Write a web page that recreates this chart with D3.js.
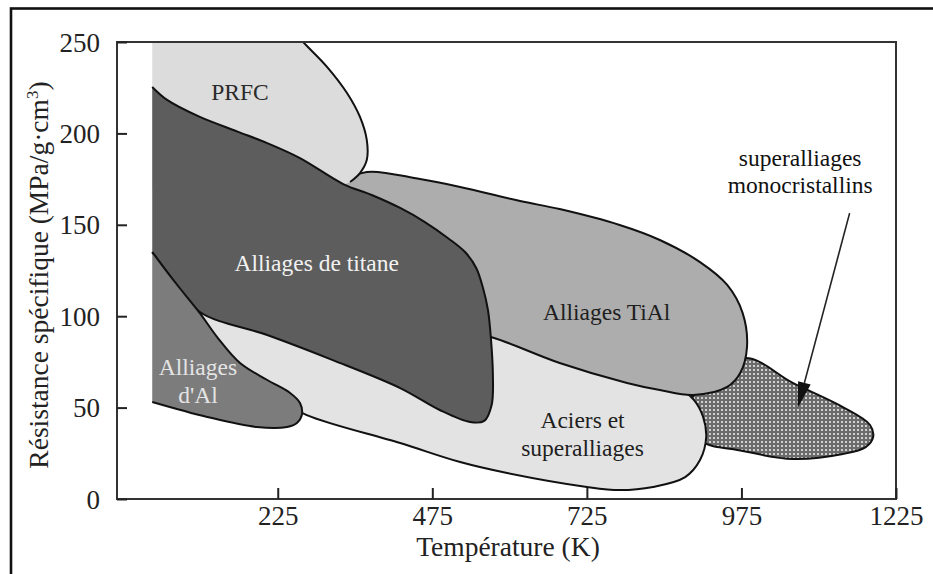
<!DOCTYPE html>
<html><head><meta charset="utf-8">
<script src="https://cdn.jsdelivr.net/npm/d3@7"></script>
<style>
html,body{margin:0;padding:0;background:#fff;}
svg{display:block;font-family:"Liberation Serif","Times New Roman",serif;}
svg text{font-family:"Liberation Serif","Times New Roman",serif !important;}
</style></head>
<body>
<svg id="chart" width="933" height="574"></svg>
<script>
// ---- data (Température K, Résistance spécifique MPa/(g/cm3)) ----
const xTicks = [225, 475, 725, 975, 1225];
const yTicks = [0, 50, 100, 150, 200, 250];
const xTitle = "Température (K)";
const yTitle = "Résistance spécifique (MPa/g·cm";

const prfc = [[22,265],[225,265],[266,250],[305,236.3],[337,222.1],[358,209],[369,196.4],[369,185.4],[358,178.3],[342,173.4],[293,169],[22,169]];
const titane = [[22,225.4],[46,218.3],[99,209],[160,201],[208,194.7],[261,186.5],[331,172.3],[377,166.3],[423,159.2],[463,151.5],[500,142.8],[528,135.1],[546,126.4],[557,115.4],[565,103.4],[570,87],[573,67.8],[571,51.4],[559,42.7],[536,42.1],[487,48.7],[423,60.7],[314,76],[208,89.7],[99,102.3],[56,119.8],[22,135.1]];
const alu = [[22,135.1],[56,119.8],[99,101.7],[127,88.6],[164,74.4],[208,65.1],[245,58],[261,52.5],[264,46],[256,41.6],[240,39.4],[191,39.4],[111,44.9],[22,53.1]];
const aciers = [[75,108.9],[309,97.9],[552,97.9],[746,80.4],[867,62.4],[898,54.2],[913,44.9],[918,33.9],[908,21.3],[884,12],[832,6.6],[778,4.9],[725,6.6],[596,14.2],[520,20.2],[423,30.6],[272,45.9],[229,54.2],[132,74.9]];
const tial = [[334,173.4],[369,178.9],[455,175],[520,170.7],[617,163],[681,158.6],[778,149.9],[843,141.7],[908,129.6],[952,117.1],[977,101.7],[984,83.1],[973,68.9],[952,61.3],[897,56.9],[843,59.6],[790,63.5],[681,74.4],[575,88.1],[520,92.4],[423,108.9],[342,136.2],[318,163.6]];
const mono = [[908,62.4],[981,77.1],[1058,63.5],[1139,50.3],[1183,40.5],[1188,33.9],[1176,28.4],[1139,24.6],[1058,21.9],[977,26.3],[908,32.3],[892,48.7]];
const arrowFrom = [1150, 156.4];
const arrowTo = [1066, 49.8];

const labels = [
  {lines:["PRFC"], at:[164,222.6], color:"#2a2a2a"},
  {lines:["Alliages de titane"], at:[288,129.1], color:"#f2f2f2"},
  {lines:["Alliages","d'Al"], at:[96,64.6], color:"#e4e4e4"},
  {lines:["Alliages TiAl"], at:[757,102.3], color:"#1e1e1e"},
  {lines:["Aciers et","superalliages"], at:[718,35.6], color:"#1e1e1e"},
  {lines:["superalliages","monocristallins"], at:[1070,179.2], color:"#111"}
];

// ---- layout ----
const svg = d3.select("#chart");
const L = 117, R = 896, T = 42, B = 499;
const x = d3.scaleLinear().domain([-35, 1225]).range([L, R]);
const y = d3.scaleLinear().domain([0, 250]).range([B, T]);

// outer border
svg.append("rect").attr("x", 11).attr("y", 8.5).attr("width", 960).attr("height", 620)
  .attr("fill", "#fff").attr("stroke", "#111").attr("stroke-width", 2.6);

const defs = svg.append("defs");
defs.append("clipPath").attr("id", "plotclip").append("rect")
  .attr("x", L).attr("y", T).attr("width", R - L).attr("height", B - T);
const pat = defs.append("pattern").attr("id", "dots").attr("patternUnits", "userSpaceOnUse")
  .attr("width", 4).attr("height", 4);
pat.append("rect").attr("width", 4).attr("height", 4).attr("fill", "#6c6c6c");
pat.append("rect").attr("x", 1).attr("y", 1).attr("width", 2).attr("height", 2).attr("fill", "#cfcfcf");

const g = svg.append("g").attr("clip-path", "url(#plotclip)");
const openLine = d3.line().x(d => x(d[0])).y(d => y(d[1])).curve(d3.curveCatmullRom.alpha(0.5));
const closedLine = d3.line().x(d => x(d[0])).y(d => y(d[1])).curve(d3.curveCatmullRomClosed.alpha(0.5));

function region(data, fill, closed, strokeN) {
  const d = closed ? closedLine(data) : openLine(data);
  g.append("path").attr("d", d).attr("fill", fill).attr("stroke", "none");
  const sd = strokeN ? openLine(data.slice(0, strokeN)) : d;
  g.append("path").attr("d", sd).attr("fill", "none")
    .attr("stroke", "#111").attr("stroke-width", 2).attr("stroke-linejoin", "round");
}
region(mono, "url(#dots)", true);
region(aciers, "#e3e3e3", true);
region(tial, "#adadad", true);
region(prfc, "#dcdcdc", false, 10);
region(titane, "#5d5d5d", false);
region(alu, "#7c7c7c", false);

// arrow
const ax1 = x(arrowFrom[0]), ay1 = y(arrowFrom[1]), ax2 = x(arrowTo[0]), ay2 = y(arrowTo[1]);
const ang = Math.atan2(ay2 - ay1, ax2 - ax1);
const hl = 26, hw = 6.5;
const bx = ax2 - hl * Math.cos(ang), by = ay2 - hl * Math.sin(ang);
svg.append("line").attr("x1", ax1).attr("y1", ay1).attr("x2", bx).attr("y2", by)
  .attr("stroke", "#222").attr("stroke-width", 1.6);
svg.append("path").attr("d", `M${ax2},${ay2}L${bx - hw*Math.sin(ang)},${by + hw*Math.cos(ang)}L${bx + hw*Math.sin(ang)},${by - hw*Math.cos(ang)}Z`)
  .attr("fill", "#111");

// labels
labels.forEach(lb => {
  const t = svg.append("text").attr("text-anchor", "middle")
    .attr("font-size", 23.5).attr("fill", lb.color);
  const n = lb.lines.length;
  lb.lines.forEach((s, i) => {
    t.append("tspan").attr("x", x(lb.at[0]))
      .attr("y", y(lb.at[1]) + (i - (n - 1) / 2) * 27.5 + 8).text(s);
  });
});

// frame
svg.append("rect").attr("x", L).attr("y", T).attr("width", R - L).attr("height", B - T)
  .attr("fill", "none").attr("stroke", "#333").attr("stroke-width", 2);

// axes
const xAxis = d3.axisBottom(x).tickValues(xTicks).tickSizeInner(-11).tickSizeOuter(0).tickPadding(7).tickFormat(d3.format("d"));
const yAxis = d3.axisLeft(y).tickValues(yTicks).tickSizeInner(-10).tickSizeOuter(0).tickPadding(17).tickFormat(d3.format("d"));
const gx = svg.append("g").attr("transform", `translate(0,${B})`).call(xAxis);
const gy = svg.append("g").attr("transform", `translate(${L},0)`).call(yAxis);
[gx, gy].forEach(a => {
  a.attr("font-family", null);
  a.select(".domain").remove();
  a.selectAll("line").attr("stroke", "#222").attr("stroke-width", 2);
  a.selectAll("text").attr("font-size", 27).attr("fill", "#222");
});
gy.selectAll("text").attr("dy", "0.34em");

// axis titles
svg.append("text").attr("x", 508).attr("y", 556).attr("text-anchor", "middle")
  .attr("font-size", 27.5).attr("fill", "#222").text(xTitle);
const yt = svg.append("text").attr("transform", "translate(48,275) rotate(-90)")
  .attr("text-anchor", "middle").attr("font-size", 27.5).attr("fill", "#222");
yt.append("tspan").text(yTitle);
yt.append("tspan").attr("dy", -10).attr("font-size", 17).text("3");
yt.append("tspan").attr("dy", 10).text(")");
</script>
</body></html>
